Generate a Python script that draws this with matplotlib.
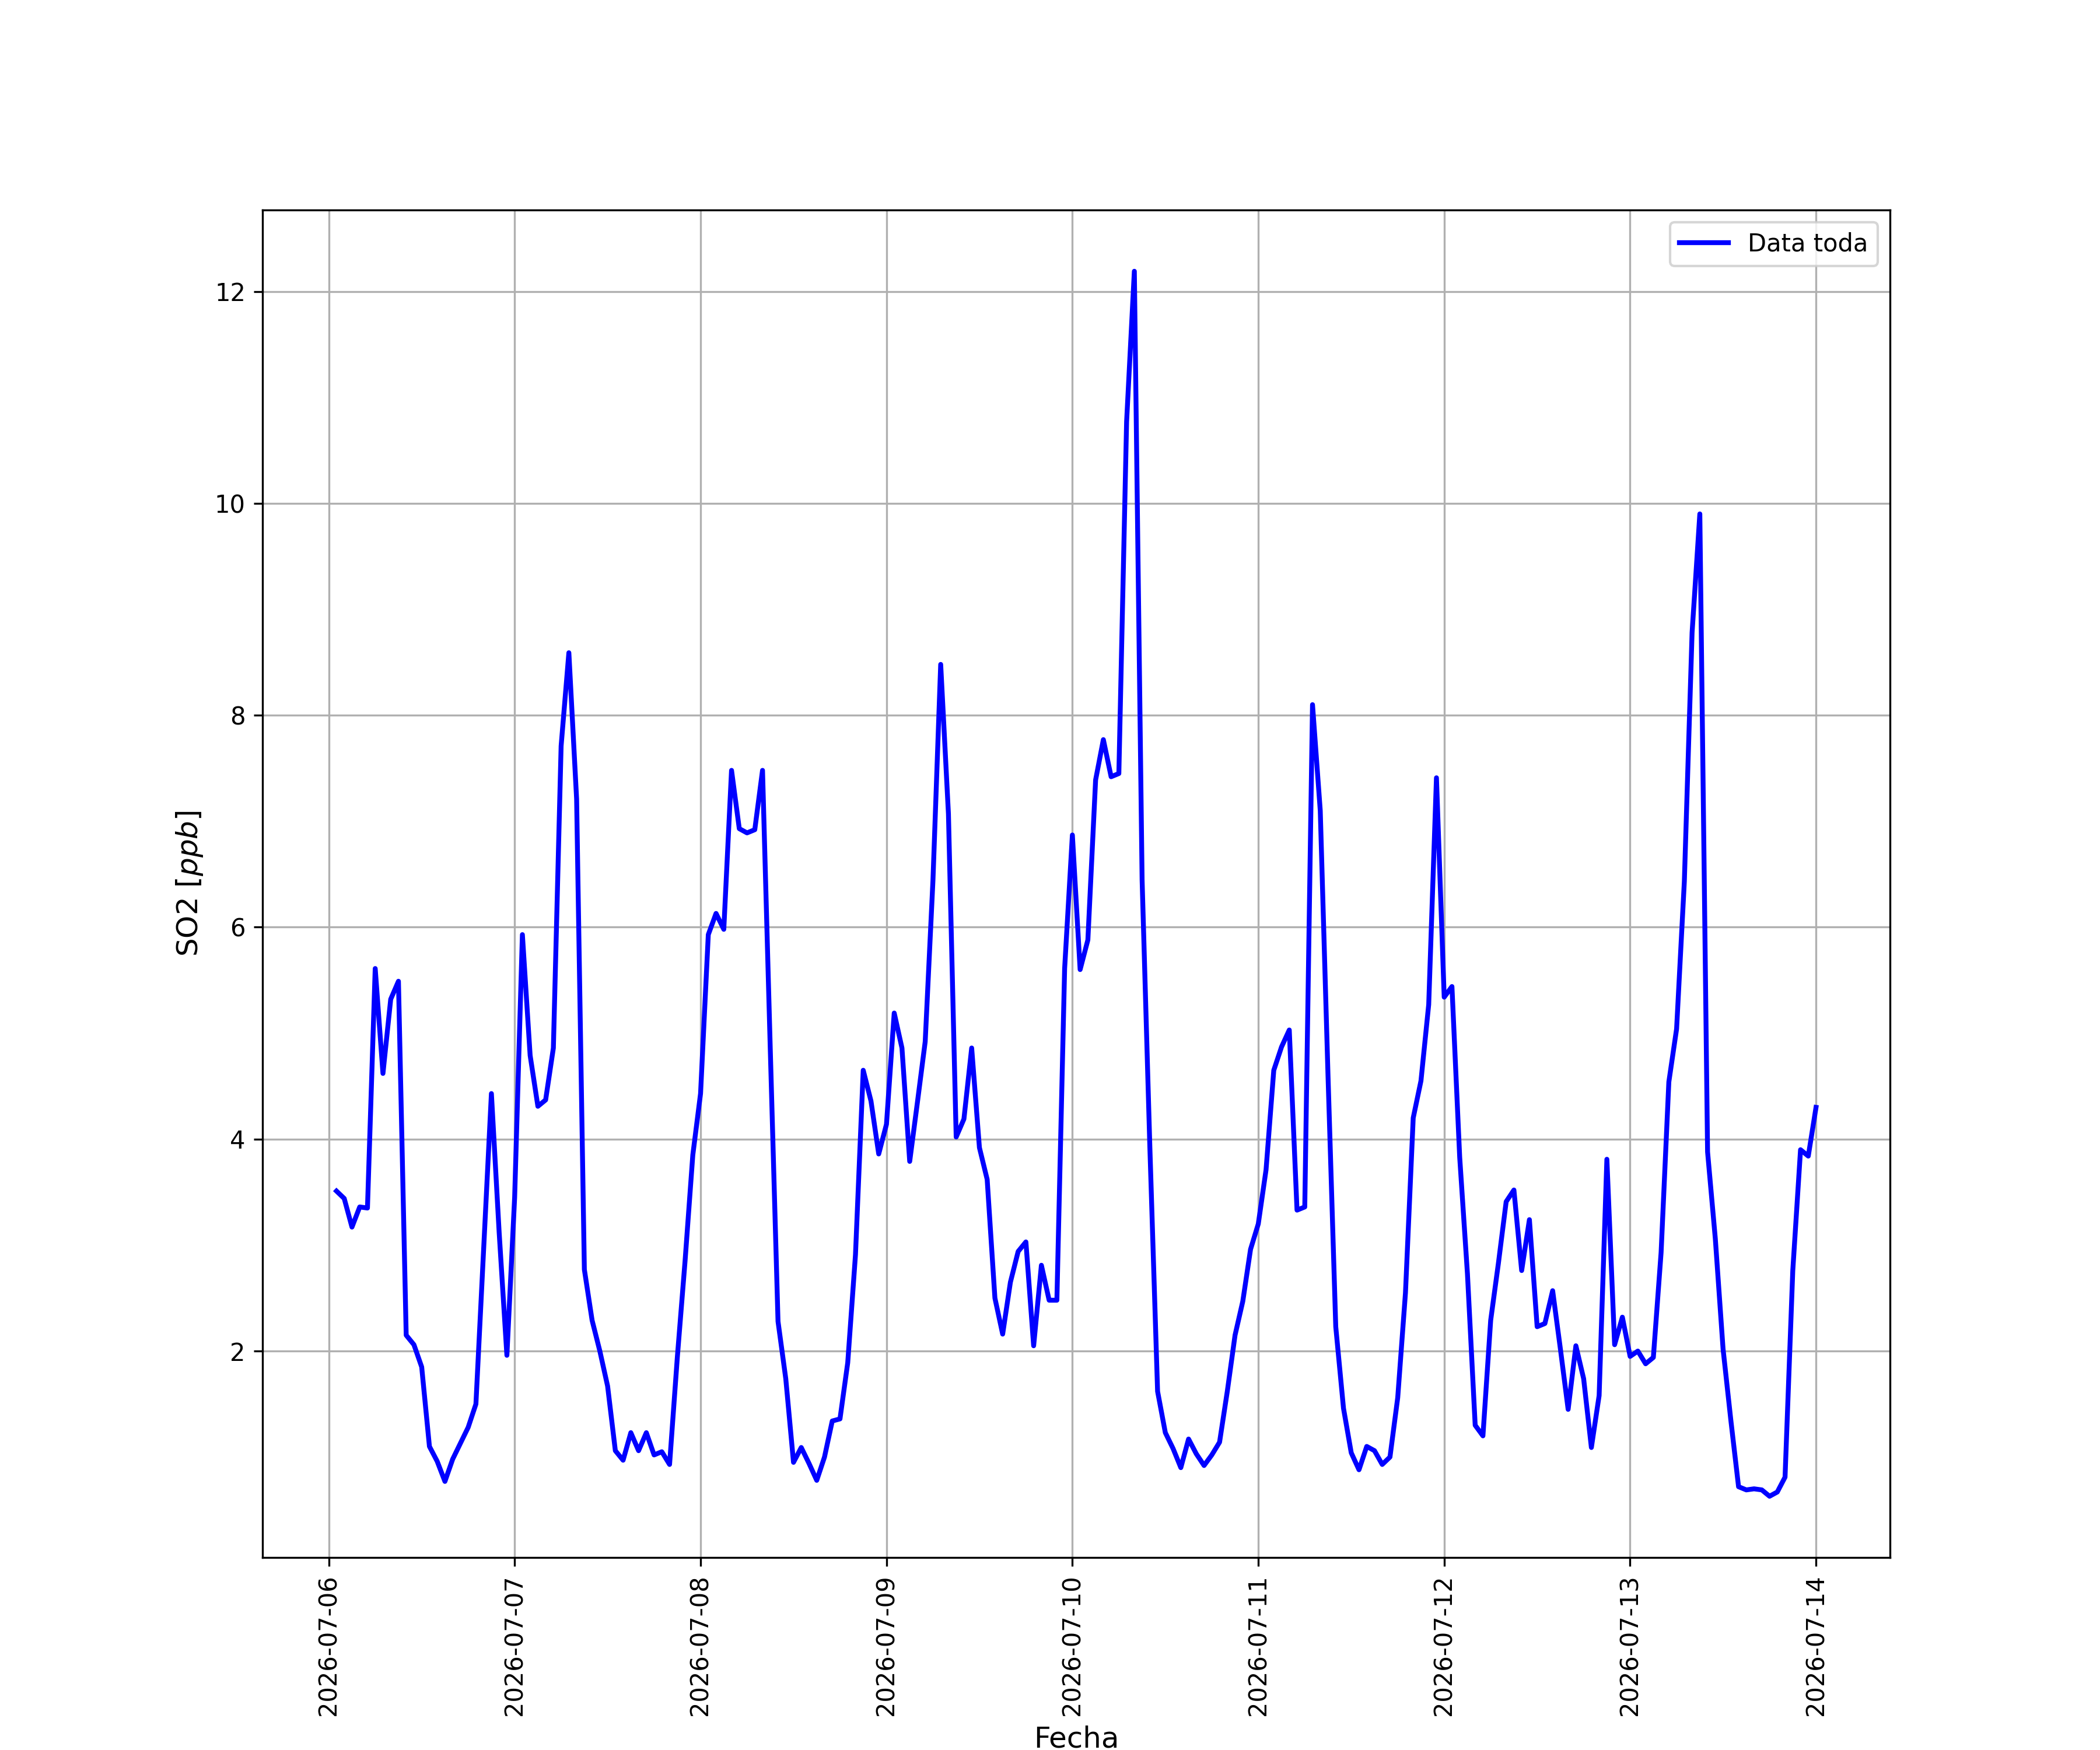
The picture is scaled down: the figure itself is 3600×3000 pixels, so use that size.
import matplotlib
matplotlib.use("Agg")
import matplotlib.pyplot as plt
import matplotlib.dates as mdates
import pandas as pd

start_time = "2026-07-06 01:00"
so2_ppb = [
    3.51, 3.44, 3.17, 3.36, 3.35, 5.61, 4.62, 5.32, 5.49, 2.15, 2.06, 1.85,
    1.10, 0.96, 0.77, 0.98, 1.13, 1.28, 1.50, 2.97, 4.43, 3.12, 1.96, 3.45,
    5.93, 4.79, 4.31, 4.37, 4.86, 7.71, 8.59, 7.21, 2.77, 2.29, 2.00, 1.67,
    1.06, 0.97, 1.23, 1.06, 1.23, 1.02, 1.05, 0.93, 1.94, 2.85, 3.85, 4.43,
    5.93, 6.13, 5.98, 7.48, 6.93, 6.89, 6.92, 7.48, 4.85, 2.28, 1.74, 0.95,
    1.09, 0.94, 0.78, 1.00, 1.34, 1.36, 1.89, 2.91, 4.65, 4.36, 3.86, 4.14,
    5.19, 4.86, 3.79, 4.35, 4.92, 6.44, 8.48, 7.07, 4.02, 4.19, 4.86, 3.92,
    3.62, 2.50, 2.16, 2.65, 2.94, 3.03, 2.05, 2.81, 2.48, 2.48, 5.61, 6.87,
    5.60, 5.88, 7.39, 7.77, 7.42, 7.45, 10.77, 12.19, 6.45, 3.93, 1.62, 1.23,
    1.08, 0.90, 1.17, 1.03, 0.92, 1.02, 1.14, 1.62, 2.15, 2.47, 2.96, 3.20,
    3.71, 4.65, 4.87, 5.03, 3.33, 3.36, 8.10, 7.10, 4.60, 2.23, 1.46, 1.04,
    0.88, 1.10, 1.06, 0.93, 1.00, 1.56, 2.55, 4.20, 4.55, 5.27, 7.41, 5.34,
    5.44, 3.83, 2.73, 1.30, 1.20, 2.29, 2.83, 3.41, 3.52, 2.76, 3.24, 2.23,
    2.26, 2.57, 2.02, 1.45, 2.05, 1.74, 1.09, 1.58, 3.81, 2.06, 2.32, 1.95,
    2.00, 1.88, 1.94, 2.93, 4.54, 5.04, 6.43, 8.78, 9.90, 3.88, 3.06, 2.02,
    1.35, 0.72, 0.69, 0.70, 0.69, 0.63, 0.67, 0.81, 2.76, 3.90, 3.84, 4.30,
]
series_label = "Data toda"
x_label = "Fecha"
y_label = "SO2 [$ppb$]"

times = pd.date_range(start=start_time, periods=len(so2_ppb), freq="h")

fig, ax = plt.subplots(figsize=(12, 10), dpi=300)
ax.plot(times, so2_ppb, color="blue", linewidth=2, label=series_label)
ax.xaxis.set_major_locator(mdates.DayLocator())
ax.xaxis.set_major_formatter(mdates.DateFormatter("%Y-%m-%d"))
plt.setp(ax.get_xticklabels(), rotation=90)
ax.set_xlabel(x_label, fontsize=12)
ax.set_ylabel(y_label, fontsize=12)
ax.grid(True)
ax.legend(loc="upper right")
fig.savefig("out.png", dpi=300)
